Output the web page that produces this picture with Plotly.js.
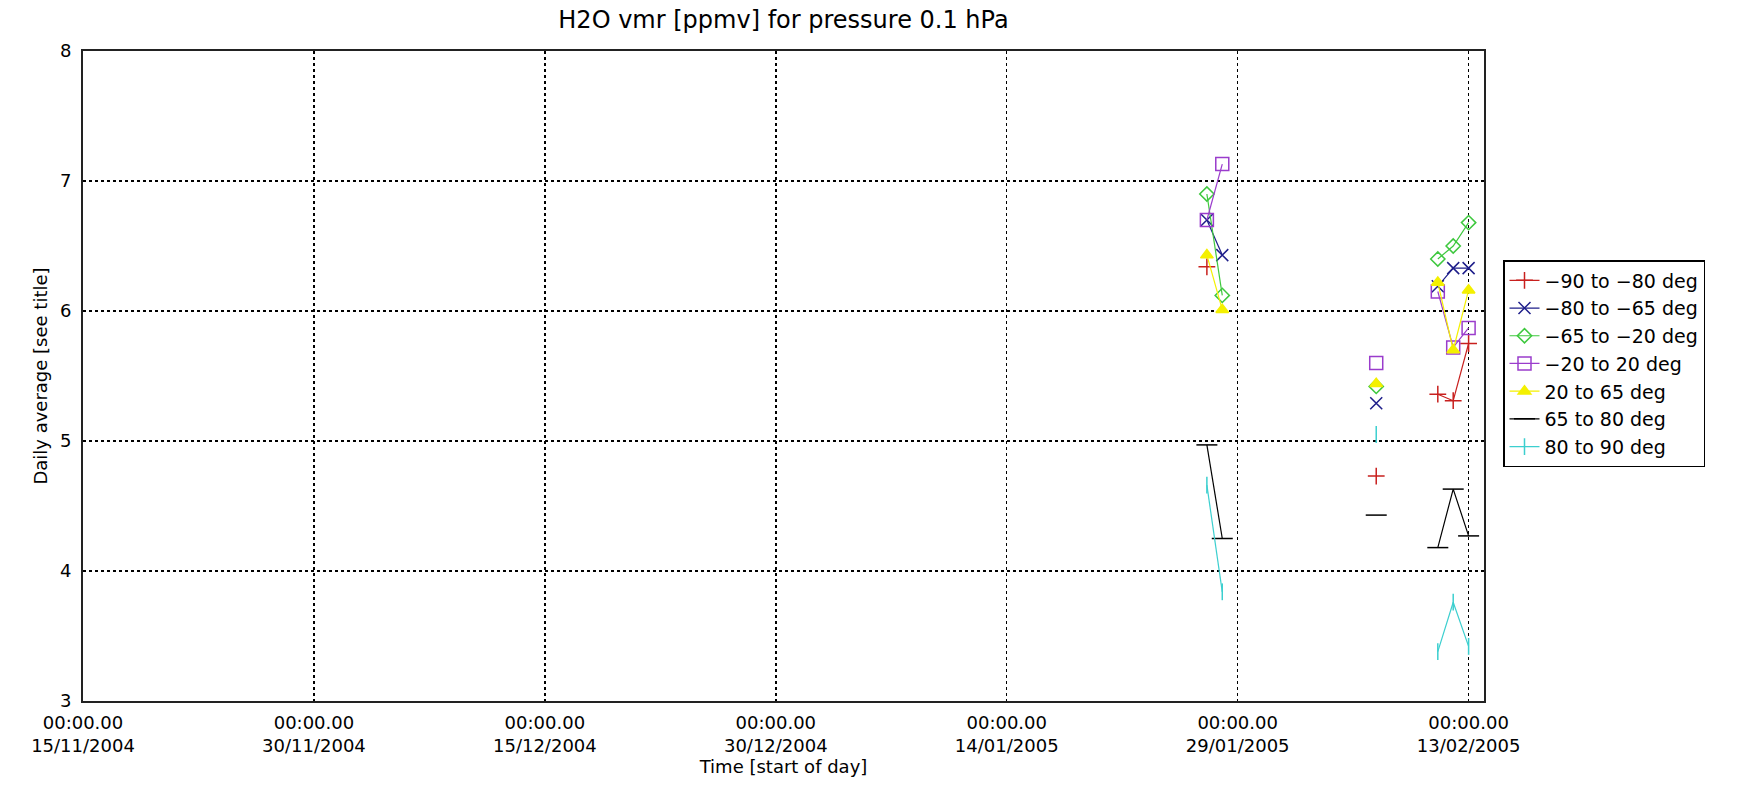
<!DOCTYPE html>
<html>
<head>
<meta charset="utf-8">
<script src="https://cdn.plot.ly/plotly-3.0.1.min.js"></script>
<style>
  html, body { margin: 0; padding: 0; background: #ffffff; }
  #chart { width: 1737px; height: 787px; }
</style>
</head>
<body>
<div id="chart"></div>
<script>
// Days (start of day); null rows mark days without data, which break the lines
const dates = ['2005-01-27', '2005-01-28', '2005-01-29', '2005-02-07', '2005-02-08', '2005-02-11', '2005-02-12', '2005-02-13'];

const seriesNames = ['\u221290 to \u221280 deg', '\u221280 to \u221265 deg', '\u221265 to \u221220 deg', '\u221220 to 20 deg', '20 to 65 deg', '65 to 80 deg', '80 to 90 deg'];

const lat_m90_m80 = [6.34, null, null, 4.73, null, 5.36, 5.31, 5.75];
const lat_m80_m65 = [6.70, 6.43, null, 5.29, null, 6.19, 6.33, 6.33];
const lat_m65_m20 = [6.90, 6.12, null, 5.42, null, 6.40, 6.50, 6.68];
const lat_m20_p20 = [6.70, 7.13, null, 5.60, null, 6.15, 5.72, 5.87];
const lat_p20_p65 = [6.43, 6.01, null, 5.44, null, 6.22, 5.70, 6.16];
const lat_p65_p80 = [4.97, 4.25, null, 4.43, null, 4.18, 4.63, 4.27];
const lat_p80_p90 = [4.66, 3.84, null, 5.05, null, 3.38, 3.76, 3.42];

const xTickVals = ['2004-11-15', '2004-11-30', '2004-12-15', '2004-12-30', '2005-01-14', '2005-01-29', '2005-02-13'];
const xTickText = ['00:00.00<br>15/11/2004', '00:00.00<br>30/11/2004', '00:00.00<br>15/12/2004', '00:00.00<br>30/12/2004', '00:00.00<br>14/01/2005', '00:00.00<br>29/01/2005', '00:00.00<br>13/02/2005'];
const yTickVals = [3, 4, 5, 6, 7, 8];

const allValues = [lat_m90_m80, lat_m80_m65, lat_m65_m20, lat_m20_p20, lat_p20_p65, lat_p65_p80, lat_p80_p90];
const colors = ['#c8201e', '#1e1e8a', '#3ec83e', '#9a3ccc', '#f4f000', '#000000', '#3ccfcf'];
const symbols = ['cross-thin', 'x-thin', 'diamond-open', 'square-open', 'triangle-up', 'line-ew', 'line-ns'];
const sizes = [12, 12, 11, 13, 11, 15, 12];

const traces = allValues.map((vals, i) => ({
  type: 'scatter',
  mode: 'lines+markers',
  x: dates,
  y: vals,
  name: seriesNames[i],
  connectgaps: false,
  line: { color: colors[i], width: 1.2 },
  marker: {
    symbol: symbols[i],
    size: sizes[i],
    color: colors[i],
    line: { color: colors[i], width: 1.5 }
  }
}));

const font = "'DejaVu Sans', 'Liberation Sans', sans-serif";

const layout = {
  width: 1737,
  height: 787,
  margin: { l: 83, r: 253, t: 51, b: 86 },
  paper_bgcolor: '#ffffff',
  plot_bgcolor: '#ffffff',
  font: { family: font, size: 18, color: '#000000' },
  title: {
    text: 'H2O vmr [ppmv] for pressure 0.1 hPa',
    font: { family: font, size: 24, color: '#000000' },
    x: 783.5 / 1737, xanchor: 'center', xref: 'container',
    y: 1 - 20 / 787, yanchor: 'middle', yref: 'container'
  },
  xaxis: {
    type: 'date',
    range: ['2004-11-15', '2005-02-14'],
    tickmode: 'array',
    tickvals: xTickVals,
    ticktext: xTickText,
    ticks: '',
    ticklabelstandoff: 4,
    tickfont: { family: font, size: 18 },
    showgrid: true,
    gridcolor: '#000000',
    gridwidth: 1.5,
    griddash: 'dot',
    showline: true,
    linecolor: '#222222',
    linewidth: 2,
    mirror: true,
    zeroline: false,
    title: { text: 'Time [start of day]', font: { family: font, size: 18 }, standoff: 0 }
  },
  yaxis: {
    range: [3, 8],
    tickmode: 'array',
    tickvals: yTickVals,
    ticks: '',
    ticklabelstandoff: 6,
    tickfont: { family: font, size: 18 },
    showgrid: true,
    gridcolor: '#000000',
    gridwidth: 1.5,
    griddash: 'dot',
    showline: true,
    linecolor: '#222222',
    linewidth: 2,
    mirror: true,
    zeroline: false,
    title: { text: 'Daily average [see title]', font: { family: font, size: 18 }, standoff: 8 }
  },
  legend: {
    x: (1503 - 83) / 1401,
    xanchor: 'left',
    y: (701 - 260) / 650,
    yanchor: 'top',
    bgcolor: '#ffffff',
    bordercolor: '#000000',
    borderwidth: 1.5,
    itemwidth: 30,
    entrywidth: 195,
    entrywidthmode: 'pixels',
    font: { family: font, size: 19, color: '#000000' }
  },
  showlegend: true
};

Plotly.newPlot('chart', traces, layout, { displayModeBar: false, staticPlot: true });
</script>
</body>
</html>
